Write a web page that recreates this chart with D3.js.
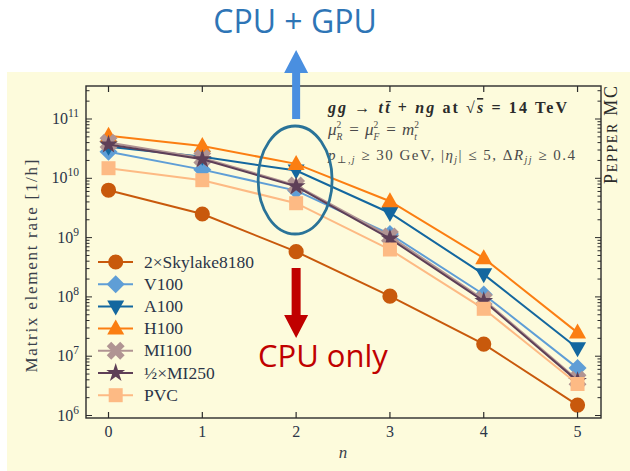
<!DOCTYPE html>
<html><head><meta charset="utf-8">
<script src="https://cdn.jsdelivr.net/npm/d3@7"></script>
<style>body{margin:0;background:#fff}svg{display:block}</style>
</head><body>
<svg id="c" width="630" height="471"></svg>
<script>
const nValues = [0, 1, 2, 3, 4, 5];
const seriesNames = ["2×Skylake8180", "V100", "A100", "H100", "MI100", "½×MI250", "PVC"];
const skylake = [6.3e9, 2.5e9, 5.8e8, 1.03e8, 1.6e7, 1.5e6];
const v100    = [2.8e10, 1.4e10, 6.2e9, 1.15e9, 1.1e8, 6.3e6];
const a100    = [3.4e10, 2.3e10, 1.35e10, 2.6e9, 2.4e8, 1.36e7];
const h100    = [5.2e10, 3.5e10, 1.75e10, 4.1e9, 4.5e8, 2.5e7];
const mi100   = [4.0e10, 2.2e10, 7.6e9, 1.05e9, 9.0e7, 4.0e6];
const mi250   = [3.7e10, 2.1e10, 7.3e9, 9.6e8, 8.5e7, 3.8e6];
const pvc     = [1.48e10, 9.3e9, 3.8e9, 6.3e8, 6.3e7, 3.4e6];
const yTickExps = [6, 7, 8, 9, 10, 11];

const seriesValues = [skylake, v100, a100, h100, mi100, mi250, pvc];
const colors = ["#c8590c", "#5f9ed6", "#13679f", "#fb7e12", "#b09493", "#5e3f57", "#fdba84"];
const shapes = ["circle", "diamond", "tridown", "triup", "xcross", "star", "square"];

const svg = d3.select("#c");
const L = 86, R = 601, T = 86, B = 418;

svg.append("rect").attr("x", 7).attr("y", 72).attr("width", 623).attr("height", 399).attr("fill", "#fdfbdc");

const x = d3.scaleLinear().domain([-0.24, 5.25]).range([L, R]);
const y = d3.scaleLog().domain([Math.pow(10, 5.958), Math.pow(10, 11.5565)]).range([B, T]);

const serif = "'Liberation Serif', 'DejaVu Serif', serif";

function symbolPath(shape) {
  switch (shape) {
    case "circle": return d3.symbol(d3.symbolCircle, 180)();
    case "diamond": return "M0,-9L9,0L0,9L-9,0Z";
    case "tridown": return "M-8.5,-6L8.5,-6L0,9Z";
    case "triup": return "M-8.5,6L8.5,6L0,-9Z";
    case "xcross": return d3.symbol(d3.symbolCross, 200)();
    case "star": return d3.symbol(d3.symbolStar, 110)();
    case "square": return "M-7,-7L7,-7L7,7L-7,7Z";
  }
}
function addMarker(g, shape, cx, cy, color) {
  const p = g.append("path").attr("d", symbolPath(shape)).attr("fill", color);
  p.attr("transform", `translate(${cx},${cy})` + (shape === "xcross" ? " rotate(45)" : ""));
}

svg.append("clipPath").attr("id", "clip").append("rect").attr("x", L).attr("y", T).attr("width", R - L).attr("height", B - T);

const plot = svg.append("g").attr("clip-path", "url(#clip)");
const line = d3.line().x((d, i) => x(nValues[i])).y(d => y(d));
seriesValues.forEach((vals, si) => {
  const g = plot.append("g");
  g.append("path").attr("d", line(vals)).attr("fill", "none").attr("stroke", colors[si]).attr("stroke-width", 2);
  vals.forEach((v, i) => addMarker(g, shapes[si], x(nValues[i]), y(v), colors[si]));
});

const axG = svg.append("g");
axG.append("rect").attr("x", L).attr("y", T).attr("width", R - L).attr("height", B - T)
  .attr("fill", "none").attr("stroke", "#2b2b2b").attr("stroke-width", 1.4);

nValues.forEach(n => {
  axG.append("line").attr("x1", x(n)).attr("x2", x(n)).attr("y1", B).attr("y2", B - 6).attr("stroke", "#2b2b2b").attr("stroke-width", 1.2);
  axG.append("line").attr("x1", x(n)).attr("x2", x(n)).attr("y1", T).attr("y2", T + 6).attr("stroke", "#2b2b2b").attr("stroke-width", 1.2);
  axG.append("text").attr("x", x(n)).attr("y", 437).attr("text-anchor", "middle")
    .attr("font-family", serif).attr("font-size", 16).attr("fill", "#2b3548").text(n);
});

const [d0, d1] = y.domain();
for (let e = 5; e <= 11; e++) {
  for (let m = 1; m <= 9; m++) {
    const v = m * Math.pow(10, e);
    if (v < d0 || v > d1) continue;
    const len = m === 1 ? 6 : 3.5;
    const yy = y(v);
    axG.append("line").attr("x1", L).attr("x2", L + len).attr("y1", yy).attr("y2", yy).attr("stroke", "#2b2b2b").attr("stroke-width", 1);
    axG.append("line").attr("x1", R).attr("x2", R - len).attr("y1", yy).attr("y2", yy).attr("stroke", "#2b2b2b").attr("stroke-width", 1);
  }
}
yTickExps.forEach(e => {
  const t = axG.append("text").attr("x", 79).attr("y", y(Math.pow(10, e)) + 5).attr("text-anchor", "end")
    .attr("font-family", serif).attr("font-size", 16).attr("fill", "#2b3548");
  t.append("tspan").text("10");
  t.append("tspan").attr("dy", -7).attr("font-size", 11.5).text(e);
});

svg.append("text").attr("transform", `translate(37,266) rotate(-90)`).attr("text-anchor", "middle")
  .attr("font-family", serif).attr("font-size", 17).attr("fill", "#3a3f4a")
  .attr("textLength", 213).attr("lengthAdjust", "spacing").text("Matrix element rate [1/h]");
svg.append("text").attr("x", 343).attr("y", 458).attr("text-anchor", "middle")
  .attr("font-family", serif).attr("font-style", "italic").attr("font-size", 17).attr("fill", "#3a3f4a").text("n");

const pp = svg.append("text").attr("transform", `translate(617,184) rotate(-90)`).attr("text-anchor", "start")
  .attr("font-family", serif).attr("font-size", 18).attr("fill", "#2b2b2b")
  .attr("textLength", 98).attr("lengthAdjust", "spacing");
pp.append("tspan").text("P");
pp.append("tspan").attr("font-size", 14).text("EPPER");
pp.append("tspan").text(" MC");

const tcol = "#2b2b2b";
const a1 = svg.append("text").attr("x", 328).attr("y", 113).attr("font-family", serif).attr("font-size", 16)
  .attr("font-weight", "bold").attr("fill", tcol).attr("textLength", 239).attr("lengthAdjust", "spacing");
a1.append("tspan").attr("font-style", "italic").text("gg");
a1.append("tspan").text(" → ");
a1.append("tspan").attr("font-style", "italic").text("tt\u0304");
a1.append("tspan").text(" + ");
a1.append("tspan").attr("font-style", "italic").text("ng");
a1.append("tspan").text(" at √");
a1.append("tspan").attr("font-style", "italic").attr("text-decoration", "overline").text("s");
a1.append("tspan").text(" = 14 TeV");

// line 2: scale choice, built piece by piece so scripts stack cleanly
const a2 = svg.append("g").attr("fill", "#4a4a4a").attr("font-family", serif);
let cx2 = 328;
const base2 = 135;
function piece(txt, size, dy, italic, advance) {
  const t = a2.append("text").attr("x", cx2).attr("y", base2 + dy).attr("font-size", size)
    .attr("font-style", italic ? "italic" : "normal").text(txt);
  const w = t.node().getComputedTextLength();
  if (advance) cx2 += w;
  return w;
}
function supSub(base, sup, sub) {
  piece(base, 17, 0, true, true);
  const w1 = piece(sup, 9.5, -7, false, false);
  const w2 = piece(sub, 9.5, 5, true, false);
  cx2 += Math.max(w1, w2) + 1;
}
function eq() { cx2 += 6; piece("=", 17, 0, false, true); cx2 += 6; }
supSub("μ", "2", "R");
eq();
supSub("μ", "2", "F");
eq();
supSub("m", "2", "t");

const a3 = svg.append("text").attr("x", 328).attr("y", 160).attr("font-family", serif).attr("font-size", 15)
  .attr("fill", "#4a4a4a").attr("textLength", 247).attr("lengthAdjust", "spacing");
a3.append("tspan").attr("font-style", "italic").text("p");
a3.append("tspan").attr("font-size", 10).attr("dy", 3).attr("font-style", "italic").text("⊥,j");
a3.append("tspan").attr("dy", -3).text(" ≥ 30 GeV, |");
a3.append("tspan").attr("font-style", "italic").text("η");
a3.append("tspan").attr("font-size", 10).attr("dy", 3).attr("font-style", "italic").text("j");
a3.append("tspan").attr("dy", -3).text("| ≤ 5, Δ");
a3.append("tspan").attr("font-style", "italic").text("R");
a3.append("tspan").attr("font-size", 10).attr("dy", 3).attr("font-style", "italic").text("jj");
a3.append("tspan").attr("dy", -3).text(" ≥ 0.4");

const legY0 = 262, legDy = 22.2;
seriesNames.forEach((name, si) => {
  const yy = legY0 + si * legDy;
  const g = svg.append("g");
  g.append("line").attr("x1", 98).attr("x2", 133).attr("y1", yy).attr("y2", yy).attr("stroke", colors[si]).attr("stroke-width", 2);
  addMarker(g, shapes[si], 115.7, yy, colors[si]);
  g.append("text").attr("x", 144).attr("y", yy + 5.5).attr("font-family", serif).attr("font-size", 17.5)
    .attr("fill", "#2b3548").text(name);
});

svg.append("ellipse").attr("cx", x(2) - 1).attr("cy", 180).attr("rx", 37).attr("ry", 54)
  .attr("fill", "none").attr("stroke", "#2a7398").attr("stroke-width", 2.8);

const ax = x(2);
svg.append("path").attr("d", `M${ax},50 L${ax + 12},73 L${ax + 4},73 L${ax + 4},119 L${ax - 4},119 L${ax - 4},73 L${ax - 12},73 Z`)
  .attr("fill", "#4a8fe0");
svg.append("path").attr("d", `M${ax - 4.5},268 L${ax + 4.5},268 L${ax + 4.5},315 L${ax + 12},315 L${ax},338 L${ax - 12},315 L${ax - 4.5},315 Z`)
  .attr("fill", "#c00000");

const sans = "'Open Sans', 'Liberation Sans', sans-serif";
svg.append("text").attr("x", 295).attr("y", 33).attr("text-anchor", "middle").attr("font-family", sans)
  .attr("font-size", 32).attr("fill", "#2e75b6").text("CPU + GPU");
svg.append("text").attr("x", 258).attr("y", 367).attr("font-family", sans)
  .attr("font-size", 31).attr("fill", "#c00000").text("CPU only");
</script>
</body></html>
